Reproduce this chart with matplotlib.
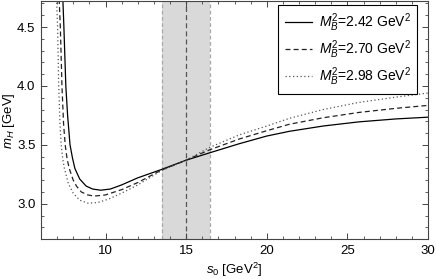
import matplotlib
matplotlib.use('Agg')
import matplotlib.pyplot as plt
from matplotlib.ticker import MultipleLocator

plt.rcParams['font.family'] = 'Liberation Sans'
plt.rcParams['mathtext.fontset'] = 'custom'
plt.rcParams['mathtext.rm'] = 'Liberation Sans'
plt.rcParams['mathtext.it'] = 'Liberation Sans:italic'

# s0 [GeV^2] and m_H [GeV], one pair of lists per Borel mass
s0_a = [7.30, 7.36, 7.42, 7.54, 7.65, 7.80, 7.95, 8.10, 8.40, 8.80, 9.20, 9.70,
        10.3, 11.0, 12.0, 13.45, 15.0, 16.4, 18.3, 20.0, 21.4, 23.5, 25.7, 28.0, 30.0]
mh_a = [4.95, 4.72, 4.50, 4.00, 3.75, 3.50, 3.39, 3.30, 3.21, 3.15, 3.125, 3.115,
        3.125, 3.16, 3.22, 3.29, 3.37, 3.43, 3.51, 3.575, 3.615, 3.66, 3.695, 3.72, 3.735]

s0_b = [7.07, 7.13, 7.20, 7.30, 7.40, 7.50, 7.62, 7.75, 8.00, 8.20, 8.50, 8.90,
        9.30, 10.0, 11.0, 12.0, 13.45, 15.0, 16.4, 18.3, 20.0, 21.4, 23.5, 25.7, 28.0, 30.0]
mh_b = [4.95, 4.72, 4.50, 4.00, 3.68, 3.50, 3.38, 3.30, 3.20, 3.15, 3.10, 3.075,
        3.065, 3.075, 3.12, 3.18, 3.285, 3.37, 3.455, 3.55, 3.62, 3.675, 3.73, 3.775, 3.81, 3.835]

s0_c = [6.92, 6.97, 7.03, 7.10, 7.17, 7.25, 7.35, 7.45, 7.70, 8.00, 8.40, 8.90,
        9.50, 10.2, 11.0, 12.0, 13.45, 15.0, 16.4, 18.3, 20.0, 21.4, 23.5, 25.7, 28.0, 30.0]
mh_c = [4.95, 4.72, 4.50, 4.00, 3.70, 3.50, 3.38, 3.30, 3.17, 3.09, 3.03, 3.005,
        3.01, 3.04, 3.09, 3.16, 3.28, 3.37, 3.475, 3.585, 3.66, 3.725, 3.80, 3.86, 3.905, 3.94]

labels = [r'$M_B^2$=2.42 GeV$^2$', r'$M_B^2$=2.70 GeV$^2$', r'$M_B^2$=2.98 GeV$^2$']
band = (13.5, 16.5)
s0_center = 15.0

fig = plt.figure(figsize=(4.36, 2.79), dpi=100)
ax = fig.add_axes([0.094, 0.143, 0.888, 0.853])

ax.axvspan(band[0], band[1], color='#d9d9d9', lw=0, zorder=0)
for xb in band:
    ax.axvline(xb, color='#a8a8a8', ls=(0, (3, 2)), lw=0.9, zorder=1)
ax.axvline(s0_center, color='#555555', ls=(0, (4, 2.5)), lw=0.9, zorder=1)

ax.plot(s0_a, mh_a, color='black', lw=0.9, label=labels[0])
ax.plot(s0_b, mh_b, color='#222222', lw=0.9, ls=(0, (4, 2.5)), label=labels[1])
ax.plot(s0_c, mh_c, color='#555555', lw=0.9, ls=(0, (1, 2)), label=labels[2])

ax.set_xlim(6, 30)
ax.set_ylim(2.7, 4.72)
ax.xaxis.set_major_locator(MultipleLocator(5))
ax.xaxis.set_minor_locator(MultipleLocator(1))
ax.yaxis.set_major_locator(MultipleLocator(0.5))
ax.yaxis.set_minor_locator(MultipleLocator(0.1))
ax.tick_params(which='both', direction='in', top=True, right=True, color='#444444',
               labelsize=9.5, pad=4)
ax.tick_params(which='major', length=4, width=0.7)
ax.tick_params(which='minor', length=2, width=0.6)
for sp in ax.spines.values():
    sp.set_color('#444444')
    sp.set_linewidth(0.8)

ax.set_xlabel(r'$s_0$ [GeV$^2$]', fontsize=9.5, labelpad=3)
ax.set_ylabel(r'$m_H$ [GeV]', fontsize=9.5)
ax.yaxis.set_label_coords(-0.062, 0.496)

leg = ax.legend(loc='upper right', bbox_to_anchor=(0.9716, 0.983), borderaxespad=0,
                fontsize=10, frameon=True, fancybox=False, edgecolor='black',
                framealpha=1, handlelength=1.95, handletextpad=0.5,
                borderpad=0.45, labelspacing=0.3)
leg.get_frame().set_linewidth(0.8)

fig.savefig('out.png', dpi=100)
